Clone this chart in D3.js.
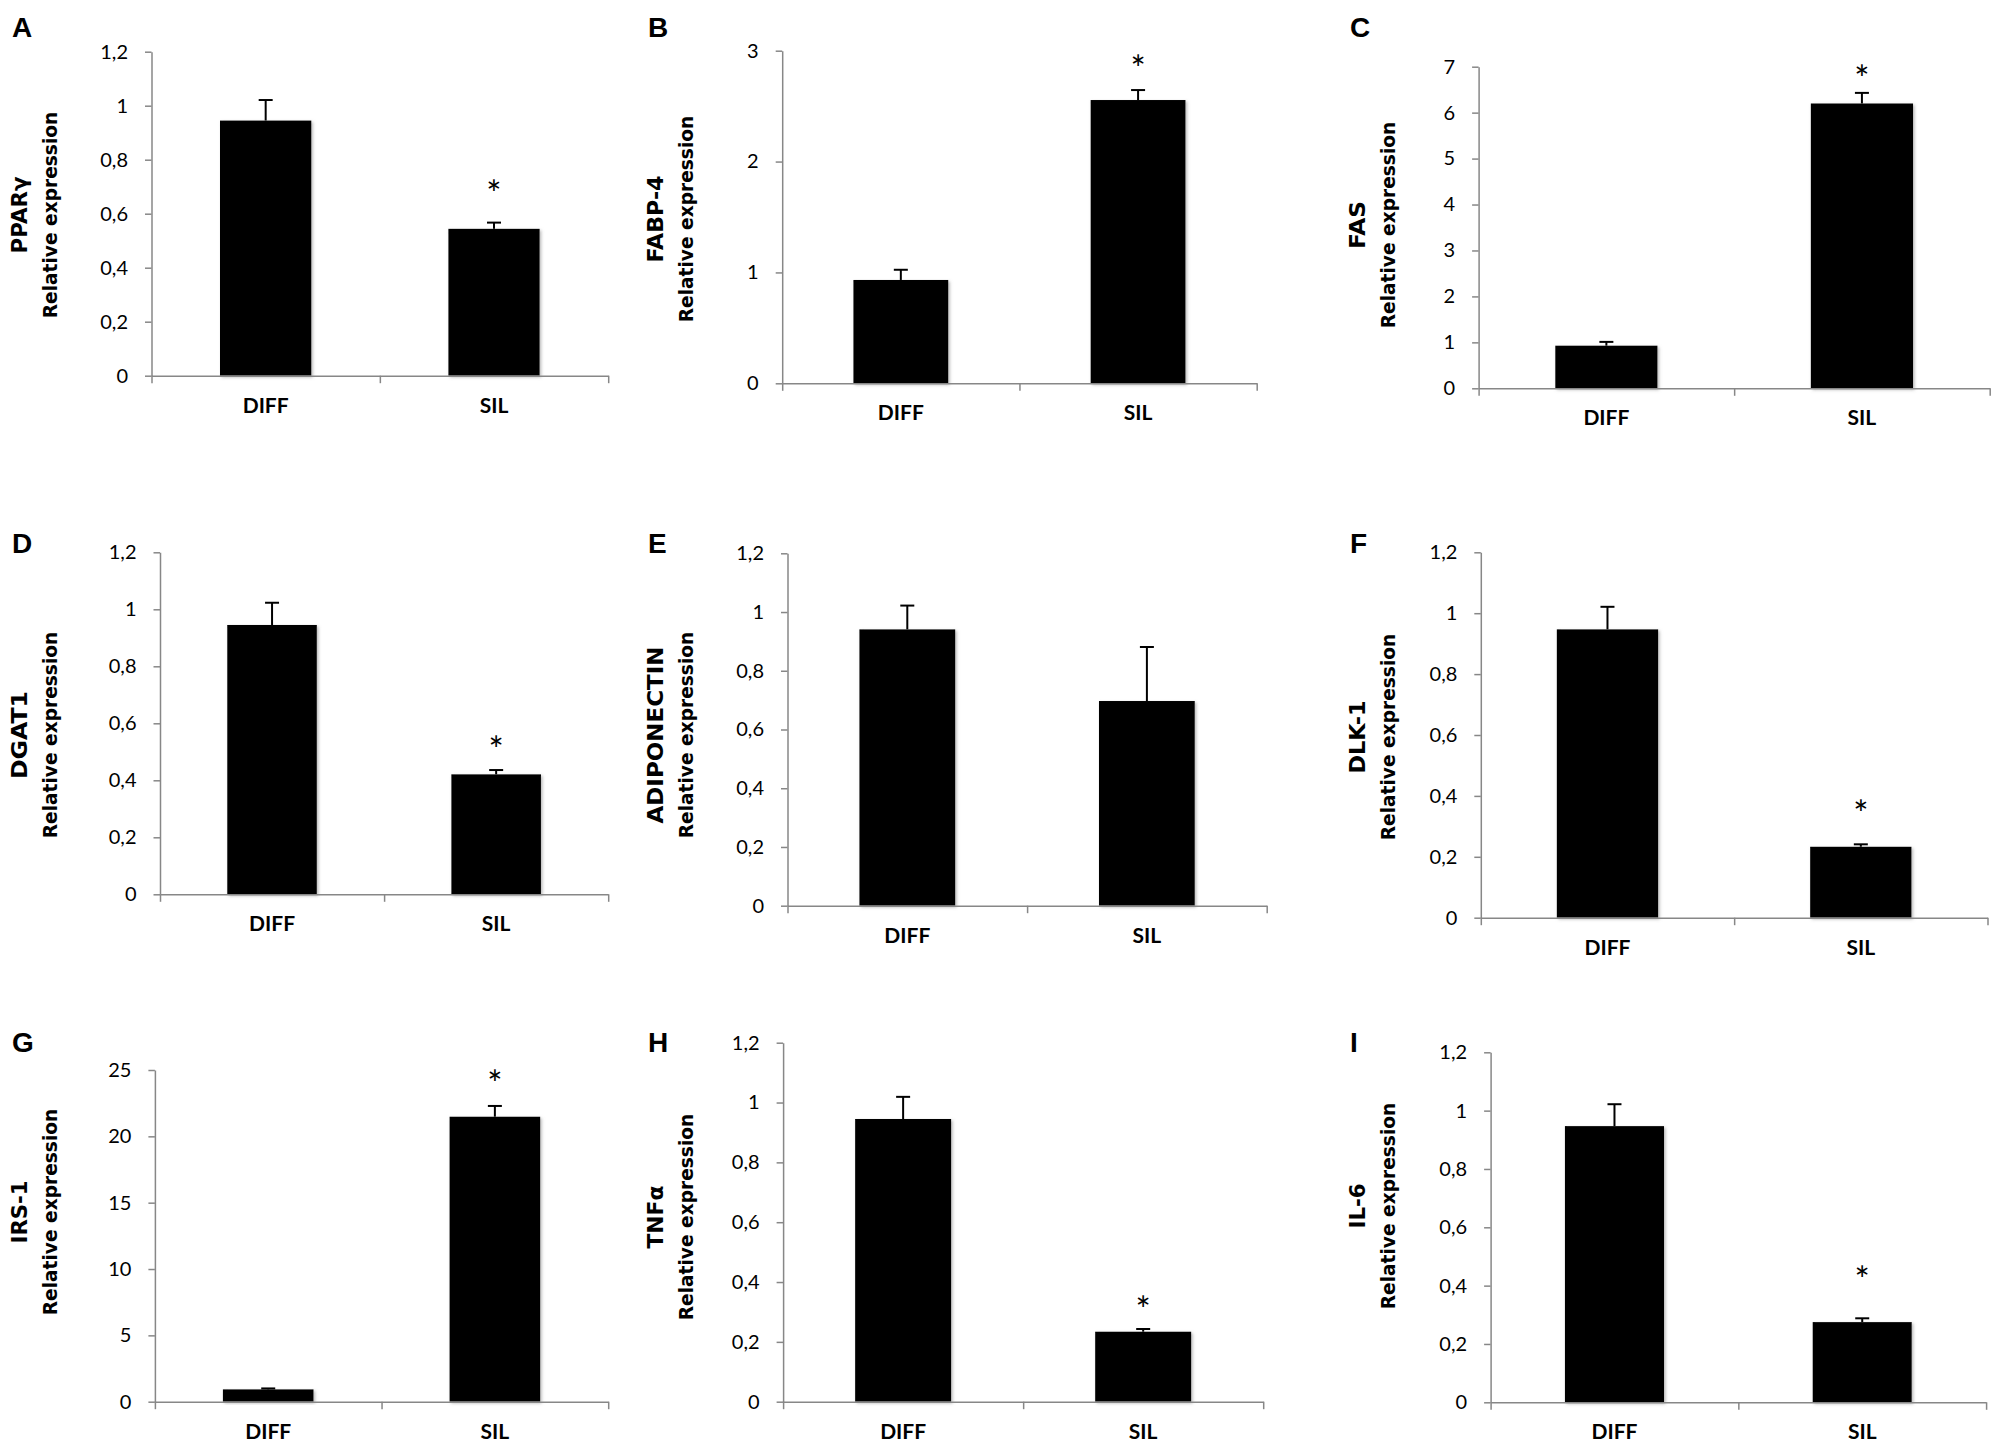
<html lang="en">
<head>
    <meta charset="UTF-8"/>
    <title>Relative expression</title>
    <style>
        body { margin: 0; background: #fff; }
        svg { display: block; }
        .tick text { font-family: Lato, sans-serif; font-size: 20px; fill: #000; }
        .axis path, .axis line { stroke: #878787; stroke-width: 1.5; }
        .cat { font-family: Lato, sans-serif; font-weight: bold; font-size: 21px; }
        .gene { font-family: "DejaVu Sans", sans-serif; font-weight: bold; font-size: 22px; }
        .ylab { font-family: "DejaVu Sans", sans-serif; font-weight: bold; font-size: 18.6px; }
        .letter { font-family: "Liberation Sans", Arial, sans-serif; font-weight: bold; font-size: 28px; }
        .star { font-family: Lato, sans-serif; font-size: 36px; }
    </style>
</head>
<body>
<svg width="2000" height="1450" viewBox="0 0 2000 1450"></svg>
<script src="https://cdn.jsdelivr.net/npm/d3@7"></script>
<script>
    // values
    const letters = ["A", "B", "C", "D", "E", "F", "G", "H", "I"];
    const genes = ["PPARγ", "FABP-4", "FAS", "DGAT1", "ADIPONECTIN", "DLK-1", "IRS-1", "TNFα", "IL-6"];
    const groups = ["DIFF", "SIL"];
    const diffMean = [0.945, 0.932, 0.928, 0.945, 0.941, 0.947, 0.93, 0.945, 0.947];
    const diffErr = [0.076, 0.092, 0.082, 0.078, 0.081, 0.074, 0.07, 0.074, 0.075];
    const silMean = [0.544, 2.555, 6.2, 0.421, 0.697, 0.233, 21.48, 0.234, 0.275];
    const silErr = [0.023, 0.09, 0.23, 0.015, 0.184, 0.008, 0.81, 0.009, 0.013];
    const starLevel = [0.70, 2.90, 6.89, 0.53, null, 0.364, 24.5, 0.33, 0.443];
    const yMax = [1.2, 3, 7, 1.2, 1.2, 1.2, 25, 1.2, 1.2];
    const yStep = [0.2, 1, 1, 0.2, 0.2, 0.2, 5, 0.2, 0.2];

    // panel frames on the page
    const colX = [0, 636, 1338];
    const rowLetterY = [37, 553, 1052];
    const geneLen = [77, 87, 48, 88, 177, 73, 63, 63, 45];
    const frames = [
        {x0: 151.5, x1: 608.2, y0: 375.7, yTop: 51.7, cy: 215},
        {x0: 782.2, x1: 1256.7, y0: 383.3, yTop: 50.7, cy: 219},
        {x0: 1478.6, x1: 1989.7, y0: 388.3, yTop: 66.7, cy: 225},
        {x0: 160, x1: 608.2, y0: 894.3, yTop: 552.3, cy: 735},
        {x0: 787.5, x1: 1266.7, y0: 905.7, yTop: 553.3, cy: 735},
        {x0: 1480.8, x1: 1987.5, y0: 917.7, yTop: 552.3, cy: 737},
        {x0: 154.9, x1: 608.2, y0: 1401.7, yTop: 1070, cy: 1212},
        {x0: 783.1, x1: 1263.2, y0: 1401.7, yTop: 1042.7, cy: 1217},
        {x0: 1490.6, x1: 1986.1, y0: 1402.3, yTop: 1052.3, cy: 1206}
    ];

    const svg = d3.select("svg");
    svg.append("rect").attr("width", 2000).attr("height", 1450).attr("fill", "#fff");

    const defs = svg.append("defs");
    defs.append("filter").attr("id", "shadow")
        .attr("x", "-10%").attr("y", "-10%").attr("width", "130%").attr("height", "130%")
        .append("feDropShadow")
        .attr("dx", 1.5).attr("dy", 1.5).attr("stdDeviation", 1.5)
        .attr("flood-color", "#888").attr("flood-opacity", 0.6);

    const fmt = d => (+d.toFixed(1)).toString().replace(".", ",");

    letters.forEach((letter, i) => {
        const f = frames[i];
        const col = i % 3, row = Math.floor(i / 3);
        const cx = colX[col];
        const g = svg.append("g");

        const y = d3.scaleLinear().domain([0, yMax[i]]).range([f.y0, f.yTop]);
        const x = d3.scaleBand().domain(groups).range([f.x0, f.x1])
            .paddingInner(0.6).paddingOuter(0.3);
        const xTicks = d3.scaleLinear().domain([0, groups.length]).range([f.x0, f.x1]);

        const rows = [
            {group: "DIFF", mean: diffMean[i], err: diffErr[i]},
            {group: "SIL", mean: silMean[i], err: silErr[i]}
        ];

        // bars
        g.append("g").selectAll("rect")
            .data(rows)
            .join("rect")
            .attr("x", d => x(d.group))
            .attr("width", x.bandwidth())
            .attr("y", d => y(d.mean))
            .attr("height", d => y(0) - y(d.mean))
            .attr("fill", "#000")
            .attr("filter", "url(#shadow)");

        // upper error bars
        const eb = g.append("g").attr("stroke", "#000").attr("stroke-width", 2);
        eb.selectAll("line.v")
            .data(rows)
            .join("line")
            .attr("class", "v")
            .attr("x1", d => x(d.group) + x.bandwidth() / 2)
            .attr("x2", d => x(d.group) + x.bandwidth() / 2)
            .attr("y1", d => y(d.mean))
            .attr("y2", d => y(d.mean + d.err));
        eb.selectAll("line.c")
            .data(rows)
            .join("line")
            .attr("class", "c")
            .attr("x1", d => x(d.group) + x.bandwidth() / 2 - 7)
            .attr("x2", d => x(d.group) + x.bandwidth() / 2 + 7)
            .attr("y1", d => y(d.mean + d.err))
            .attr("y2", d => y(d.mean + d.err));

        // y axis
        const ticks = d3.range(0, yMax[i] + yStep[i] / 2, yStep[i]);
        g.append("g")
            .attr("class", "axis")
            .attr("transform", `translate(${f.x0},0)`)
            .call(d3.axisLeft(y).tickValues(ticks).tickFormat(fmt).tickSize(6.5).tickPadding(17).tickSizeOuter(0));

        // x axis line with category separators
        g.append("g")
            .attr("class", "axis")
            .attr("transform", `translate(0,${f.y0})`)
            .call(d3.axisBottom(xTicks).tickValues(d3.range(groups.length + 1)).tickFormat("").tickSize(7.5).tickSizeOuter(0));

        g.append("g").selectAll("text")
            .data(groups)
            .join("text")
            .attr("class", "cat")
            .attr("x", d => x(d) + x.bandwidth() / 2)
            .attr("y", f.y0 + 37)
            .attr("text-anchor", "middle")
            .text(d => d);

        // significance
        if (starLevel[i] !== null) {
            g.append("text")
                .attr("class", "star")
                .attr("x", x("SIL") + x.bandwidth() / 2)
                .attr("y", y(starLevel[i]) + 20)
                .attr("text-anchor", "middle")
                .text("*");
        }

        // titles
        g.append("text")
            .attr("class", "gene")
            .attr("transform", `translate(${cx + 27},${f.cy}) rotate(-90)`)
            .attr("text-anchor", "middle")
            .attr("textLength", geneLen[i])
            .attr("lengthAdjust", "spacingAndGlyphs")
            .text(genes[i]);
        g.append("text")
            .attr("class", "ylab")
            .attr("transform", `translate(${cx + 57},${f.cy}) rotate(-90)`)
            .attr("text-anchor", "middle")
            .text("Relative expression");

        g.append("text")
            .attr("class", "letter")
            .attr("x", cx + 12)
            .attr("y", rowLetterY[row])
            .text(letter);
    });
</script>
</body>
</html>
